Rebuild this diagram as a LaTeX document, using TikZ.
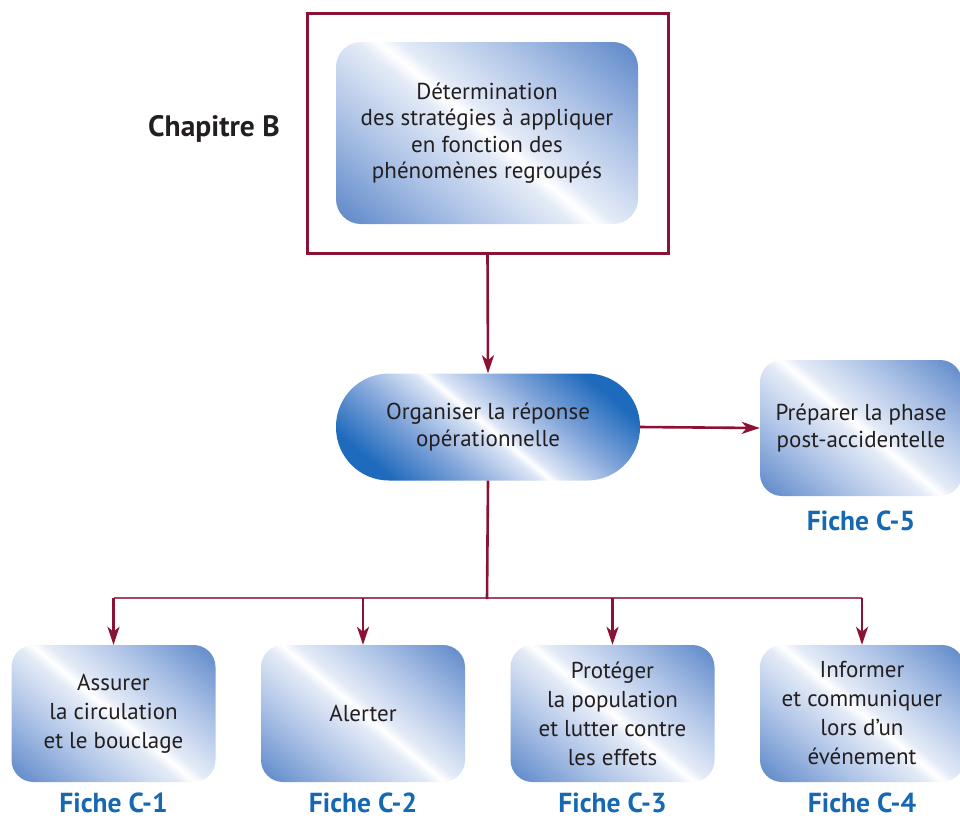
\documentclass[tikz,border=0pt]{standalone}
\usepackage{fontspec}
\setmainfont{PT Sans}
\usetikzlibrary{arrows.meta}

\definecolor{linkred}{RGB}{138,18,52}
\definecolor{busred}{RGB}{165,70,100}
\definecolor{textgrey}{RGB}{35,31,32}
\definecolor{fichblue}{RGB}{22,104,178}
\definecolor{tileblue}{RGB}{96,138,202}
\definecolor{tilemid}{RGB}{172,194,230}
\definecolor{tilelight}{RGB}{228,235,247}
\definecolor{pillblue}{RGB}{30,106,188}
\definecolor{pillmid}{RGB}{130,165,218}
\definecolor{pilllight}{RGB}{218,228,245}

% diagonal metallic tile: blue at the lower-left and upper-right corners,
% a bright streak along the other diagonal
\pgfdeclarehorizontalshading{tileshade}{100bp}{%
  color(0bp)=(tileblue); color(16bp)=(tileblue); color(33bp)=(tilemid); color(47bp)=(tilelight);
  color(50bp)=(white); color(53bp)=(tilelight); color(67bp)=(tilemid); color(84bp)=(tileblue); color(100bp)=(tileblue)}
\pgfdeclarehorizontalshading{pillshade}{100bp}{%
  color(0bp)=(pillblue); color(24bp)=(pillblue); color(37bp)=(pillmid); color(48bp)=(pilllight);
  color(50bp)=(white); color(52bp)=(pilllight); color(63bp)=(pillmid); color(76bp)=(pillblue); color(100bp)=(pillblue)}

\tikzset{
  tile/.style={shape=rectangle, rounded corners=22pt, shading=tileshade, shading angle=50,
    minimum width=204pt, minimum height=137pt, inner sep=0pt, align=center,
    text=textgrey, font=\fontsize{23}{29}\selectfont},
  toptile/.style={tile, rounded corners=25pt, minimum width=302pt, minimum height=182pt,
    font=\fontsize{23}{26.5}\selectfont},
  pill/.style={tile, shading=pillshade, rounded corners=53pt, minimum width=304pt,
    minimum height=107pt, font=\fontsize{23}{27}\selectfont},
  sidetile/.style={tile, minimum width=202pt, minimum height=136pt,
    font=\fontsize{23}{27}\selectfont},
  chapframe/.style={draw=linkred, line width=3pt, minimum width=361pt, minimum height=240pt,
    inner sep=0pt},
  fiche/.style={text=fichblue, inner sep=0pt, anchor=base, font=\fontsize{27.5}{30}\selectfont\bfseries},
  chaplabel/.style={text=textgrey, font=\fontsize{29.5}{32}\selectfont\bfseries},
  link/.style={draw=linkred, line width=2.6pt,
    -{Stealth[length=18pt,width=12pt,inset=5pt]}},
  trunk/.style={draw=linkred, line width=2.6pt},
  bus/.style={draw=busred, line width=1.6pt},
}

\begin{document}
\begin{tikzpicture}[x=1pt,y=-1pt]
\useasboundingbox (0,0) rectangle (960,820);

% chapter B block
\node[chapframe] (frame) at (487.5,133) {};
\node[toptile] (strat) at (487,133) {Détermination\\des stratégies à appliquer\\en fonction des\\phénomènes regroupés};
\node[chaplabel] (chap) at (214,129) {Chapitre B};

% central step and its follow-up
\node[pill] (orga) at (488,427) {Organiser la réponse\\opérationnelle};
\node[sidetile] (post) at (861,428) {Préparer la phase\\post-accidentelle};
\node[fiche] (f5) at (861,530) {Fiche C-5};

% the four action sheets
\node[tile] (circ) at (113.5,713.5) {Assurer\\la circulation\\et le bouclage};
\node[tile] (alert) at (363,713.5) {Alerter};
\node[tile] (prot) at (612.5,713.5) {Protéger\\la population\\et lutter contre\\les effets};
\node[tile] (info) at (862,713.5) {Informer\\et communiquer\\lors d’un\\événement};

\node[fiche] (f1) at (113.5,812) {Fiche C-1};
\node[fiche] (f2) at (363,812) {Fiche C-2};
\node[fiche] (f3) at (612.5,812) {Fiche C-3};
\node[fiche] (f4) at (862,812) {Fiche C-4};

% connectors
\draw[link] (frame.south) -- (orga.north);
\draw[link] (orga.east) -- (post.west);

\coordinate (hub) at (487,599);
\coordinate (busL) at (113.5,598);
\coordinate (busR) at (862,598);
\draw[bus] (busL) -- (busR);
\draw[trunk] (orga.south) -- (hub);

\foreach \t in {circ,alert,prot,info}
  \draw[link] (busL -| \t.north) -- (\t.north);
\end{tikzpicture}
\end{document}
